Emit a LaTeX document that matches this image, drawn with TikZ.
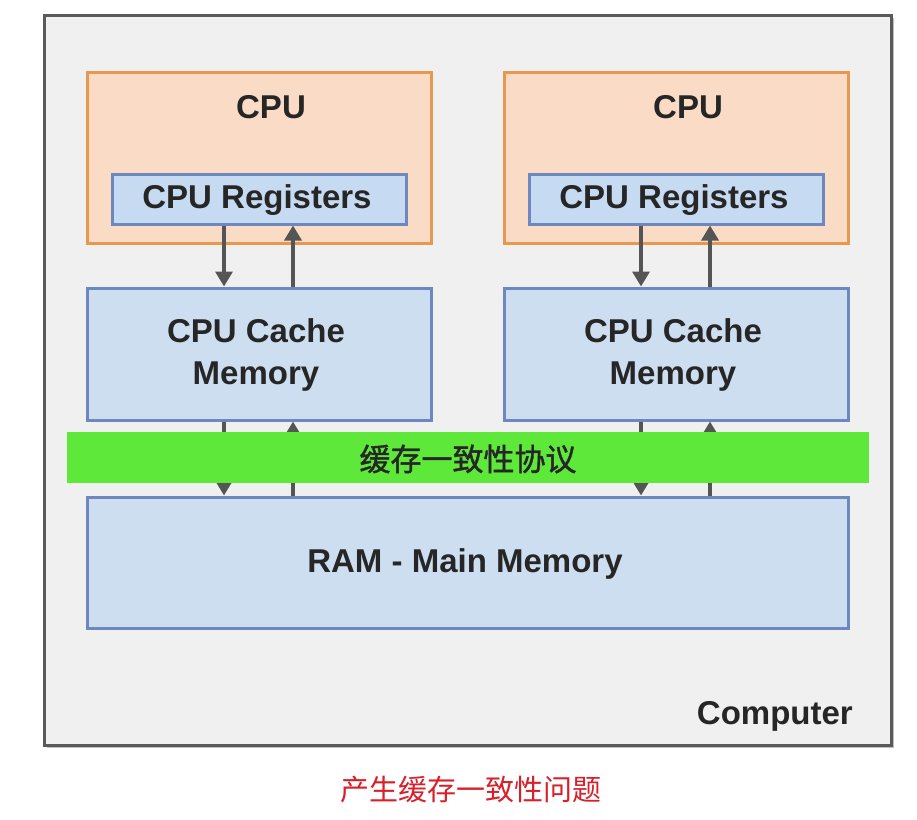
\documentclass[tikz,border=0pt]{standalone}
\usepackage{fontspec}
\setmainfont{Liberation Sans}
\newfontfamily\cjk{Noto Sans CJK SC}
\newfontfamily\cjkb[FakeBold=1.3]{Noto Sans CJK SC}
\usetikzlibrary{arrows.meta}
\definecolor{frameC}{HTML}{5A5A5A}
\definecolor{compFill}{HTML}{F0F0F0}
\definecolor{cpuFill}{HTML}{FADCC6}
\definecolor{cpuLine}{HTML}{E8984E}
\definecolor{blueFill}{HTML}{CEDEF1}
\definecolor{regFill}{HTML}{C6DAF2}
\definecolor{blueLine}{HTML}{6C88BE}
\definecolor{greenBand}{HTML}{5DE83A}
\definecolor{arrC}{HTML}{555555}
\definecolor{capRed}{HTML}{D8202A}
\tikzset{
  bx/.style={rectangle, inner sep=0pt, line width=3pt},
  cpubox/.style={bx, draw=cpuLine, fill=cpuFill},
  bluebox/.style={bx, draw=blueLine, fill=blueFill},
  regbox/.style={bx, draw=blueLine, fill=regFill},
  lbl/.style={inner sep=0pt, font=\fontsize{33}{42}\selectfont\bfseries, text=black!85, align=center},
  arr/.style={draw=arrC, line width=3.5pt, -{Triangle[width=17pt,length=15pt]}},
}
\begin{document}
\begin{tikzpicture}[x=1pt,y=-1pt]
\useasboundingbox (0,0) rectangle (917,819);
\fill[white] (0,0) rectangle (917,819);
% computer frame
\fill[black!25] (47,18) rectangle (894,748);
\node[bx, draw=frameC, fill=compFill, line width=3pt, minimum width=847, minimum height=730] (comp) at (467.5,380) {};
\node[lbl, anchor=base east] (compL) at (853,724) {Computer};
% CPUs
\node[cpubox, minimum width=344, minimum height=171] (cpuL) at (259,157.5) {};
\node[cpubox, minimum width=344, minimum height=171] (cpuR) at (676,157.5) {};
\node[lbl, anchor=base] (cpuLt) at (271,118) {CPU};
\node[lbl, anchor=base] (cpuRt) at (688,118) {CPU};
\node[regbox, minimum width=294, minimum height=50] (regL) at (259,199) {};
\node[regbox, minimum width=294, minimum height=50] (regR) at (676,199) {};
\node[lbl, anchor=base] (regLt) at (257,208) {CPU Registers};
\node[lbl, anchor=base] (regRt) at (674,208) {CPU Registers};
% caches
\node[bluebox, minimum width=344, minimum height=132] (cacheL) at (259,354) {};
\node[bluebox, minimum width=344, minimum height=132] (cacheR) at (676,354) {};
\node[lbl] (cacheLt) at (256,355) {CPU Cache\\Memory};
\node[lbl] (cacheRt) at (673,355) {CPU Cache\\Memory};
% RAM
\node[bluebox, minimum width=761, minimum height=131] (ram) at (467.5,562.5) {};
\node[lbl, anchor=base] (ramt) at (465,572) {RAM - Main Memory};
% arrows
\coordinate (aL1) at (224,0); \coordinate (aL2) at (293,0);
\coordinate (aR1) at (641,0); \coordinate (aR2) at (710,0);
\draw[arr] (regL.south -| aL1) -- (cacheL.north -| aL1);
\draw[arr] (cacheL.north -| aL2) -- (regL.south -| aL2);
\draw[arr] (regR.south -| aR1) -- (cacheR.north -| aR1);
\draw[arr] (cacheR.north -| aR2) -- (regR.south -| aR2);
\draw[arr] (cacheL.south -| aL1) -- (ram.north -| aL1);
\draw[arr] (ram.north -| aL2) -- (cacheL.south -| aL2);
\draw[arr] (cacheR.south -| aR1) -- (ram.north -| aR1);
\draw[arr] (ram.north -| aR2) -- (cacheR.south -| aR2);
% green band
\node[rectangle, inner sep=0pt, fill=greenBand, minimum width=802, minimum height=51] (band) at (468,457.5) {};
\node[inner sep=0pt, font=\cjkb\fontsize{31}{36}\selectfont, text=black!85] (bandt) at (468,459) {缓存一致性协议};
% caption
\node[inner sep=0pt, font=\cjk\fontsize{29}{34}\selectfont, text=capRed] (cap) at (471,790) {产生缓存一致性问题};
\end{tikzpicture}
\end{document}
